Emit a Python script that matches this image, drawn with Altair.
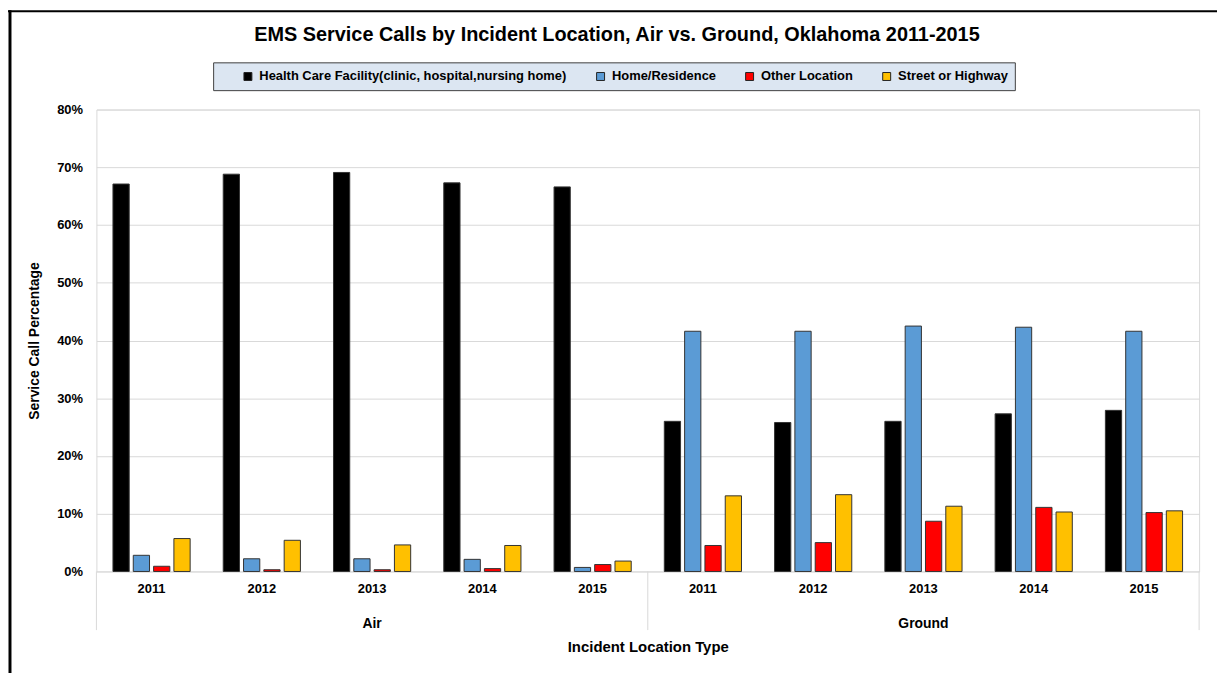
import altair as alt
import pandas as pd

# ---- data ----
years = ["2011", "2012", "2013", "2014", "2015"]
modes = ["Air", "Ground"]
series = [
    "Health Care Facility(clinic, hospital,nursing home)",
    "Home/Residence",
    "Other Location",
    "Street or Highway",
]
colors = ["#000000", "#5b9bd5", "#ff0000", "#ffc000"]

# values in percent, order: Air 2011..2015, Ground 2011..2015
health = [67.1, 68.8, 69.1, 67.3, 66.6, 26.0, 25.8, 26.0, 27.3, 27.9]
home = [2.8, 2.2, 2.2, 2.1, 0.7, 41.6, 41.6, 42.5, 42.3, 41.6]
other = [0.9, 0.3, 0.3, 0.5, 1.2, 4.5, 5.0, 8.7, 11.1, 10.2]
street = [5.7, 5.4, 4.6, 4.5, 1.8, 13.1, 13.3, 11.3, 10.3, 10.5]

title_text = "EMS Service Calls by Incident Location, Air vs. Ground, Oklahoma 2011-2015"
y_title = "Service Call Percentage"
x_title = "Incident Location Type"

keys = [f"{m}|{y}" for m in modes for y in years]
rows = []
for i, k in enumerate(keys):
    for s, vals in zip(series, [health, home, other, street]):
        rows.append({"key": k, "series": s, "value": vals[i]})
df = pd.DataFrame(rows)

group_df = pd.DataFrame({"key": [f"{m}|2013" for m in modes], "label": modes})
sep_df = pd.DataFrame({"pos": [0, 5, 10]})
one = pd.DataFrame({"a": [1]})

FONT = "Liberation Sans, Arial"
W, H = 1110, 465

x_axis = alt.Axis(
    title=x_title,
    labelExpr="slice(datum.label, -4)",
    labelAngle=0,
    ticks=False,
    domain=False,
    labelPadding=11,
    labelFont=FONT,
    labelFontSize=13,
    labelFontWeight="bold",
    labelColor="#000",
    titleFont=FONT,
    titleFontSize=15,
    titleFontWeight="bold",
    titleColor="#000",
    titleY=76,
    titleBaseline="middle",
)
x_scale = alt.Scale(paddingInner=0.3, paddingOuter=0.15)

bars = alt.Chart(df).mark_bar(stroke="#333333", strokeWidth=1).encode(
    x=alt.X("key:N", sort=keys, scale=x_scale, axis=x_axis),
    xOffset=alt.XOffset("series:N", sort=series,
                        scale=alt.Scale(paddingInner=0.2, paddingOuter=0)),
    y=alt.Y("value:Q",
            scale=alt.Scale(domain=[0, 80], nice=False),
            axis=alt.Axis(
                title=y_title,
                values=[0, 10, 20, 30, 40, 50, 60, 70, 80],
                labelExpr="datum.value + '%'",
                ticks=False,
                domain=False,
                labelPadding=14,
                labelFont=FONT,
                labelFontSize=13,
                labelFontWeight="bold",
                labelColor="#000",
                titleFont=FONT,
                titleFontSize=14,
                titleFontWeight="bold",
                titleColor="#000",
                titleX=-62,
                titleBaseline="middle",
                gridColor="#d9d9d9",
            )),
    color=alt.Color("series:N", sort=series,
                    scale=alt.Scale(domain=series, range=colors),
                    legend=alt.Legend(
                        title=None,
                        orient="none",
                        legendX=146,
                        legendY=-40,
                        direction="horizontal",
                        padding=0,
                        symbolType="square",
                        symbolSize=64,
                        symbolStrokeColor="#222222",
                        symbolStrokeWidth=1,
                        labelFont=FONT,
                        labelFontSize=13,
                        labelFontWeight="bold",
                        labelColor="#000",
                        labelLimit=500,
                        columnPadding=27,
                        labelOffset=5,
                    )),
)

group_text = alt.Chart(group_df).mark_text(
    font=FONT, fontSize=14, fontWeight="bold", color="#000", baseline="middle"
).encode(
    x=alt.X("key:N", sort=keys, scale=x_scale, axis=x_axis),
    y=alt.value(H + 53),
    text="label:N",
)

base = alt.layer(bars, group_text)

seps = alt.Chart(sep_df).mark_rule(color="#d9d9d9", strokeWidth=1).encode(
    x=alt.X("pos:Q", scale=alt.Scale(domain=[0, 10], nice=False, zero=False), axis=None),
    y=alt.value(H),
    y2=alt.value(H + 59),
)

legend_box = alt.Chart(one).mark_rect(
    fill="#dce6f2", stroke="#404040", strokeWidth=1
).encode(
    x=alt.value(118), x2=alt.value(925), y=alt.value(-47), y2=alt.value(-19)
)

title = alt.Chart(one).mark_text(
    font=FONT, fontSize=20, fontWeight="bold", color="#000", baseline="middle", align="center"
).encode(
    x=alt.value(W / 2 - 31),
    y=alt.value(-75),
    text=alt.value(title_text),
)

frame_left = alt.Chart(one).mark_rule(color="#000", strokeWidth=3).encode(
    x=alt.value(-87), y=alt.value(-100), y2=alt.value(H + 120)
)
frame_top = alt.Chart(one).mark_rule(color="#000", strokeWidth=2).encode(
    x=alt.value(-89), x2=alt.value(W + 30), y=alt.value(-99)
)

chart = alt.layer(legend_box, base, seps, title, frame_left, frame_top).resolve_scale(
    x="independent"
).properties(
    width=W,
    height=H,
    autosize=alt.AutoSizeParams(type="none"),
    padding={"left": 89, "top": 100, "right": 18, "bottom": 100},
).configure_view(
    stroke="#d9d9d9"
).configure_axisX(grid=False)

chart.save("out.html", embed_options={"renderer": "svg", "actions": False})
